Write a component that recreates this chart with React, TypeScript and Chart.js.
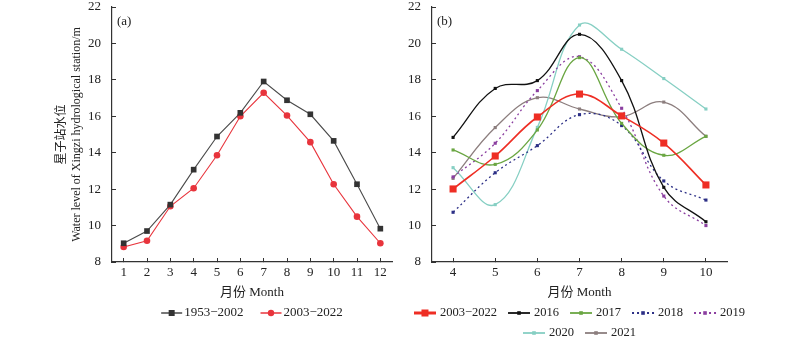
import React, { useEffect, useRef } from "react";
import { Chart, registerables } from "chart.js";

Chart.register(...registerables);

// ---------- data ----------
const monthsA = ["1", "2", "3", "4", "5", "6", "7", "8", "9", "10", "11", "12"];
const levels1953to2002 = [9.03, 9.7, 11.15, 13.07, 14.89, 16.19, 17.91, 16.88, 16.11, 14.65, 12.27, 9.83];
const levels2003to2022 = [8.82, 9.17, 11.06, 12.05, 13.86, 16.0, 17.29, 16.04, 14.58, 12.27, 10.49, 9.03];

const monthsB = ["4", "5", "6", "7", "8", "9", "10"];
const b2003to2022 = [12.01, 13.82, 15.96, 17.22, 16.02, 14.53, 12.23];
const b2016 = [14.84, 17.53, 17.96, 20.5, 17.96, 12.1, 10.21];
const b2017 = [14.15, 13.36, 15.25, 19.22, 15.61, 13.86, 14.9];
const b2018 = [10.73, 12.9, 14.39, 16.09, 15.49, 12.45, 11.4];
const b2019 = [12.67, 14.52, 17.41, 19.27, 16.44, 11.62, 10.0];
const b2020 = [13.18, 11.15, 15.39, 21.01, 19.68, 18.07, 16.4];
const b2021 = [12.59, 15.38, 17.02, 16.4, 15.98, 16.78, 14.9];

const yMin = 8;
const yMax = 22;
const yStep = 2;

const xTitle = "月份 Month";
const yTitle = ["星子站水位", "Water level of Xingzi hydrological station/m"];

const FONT = "'Liberation Serif', 'Times New Roman', 'Noto Sans CJK SC', serif";
const TEXT = "#222";
const AXIS = "#333";

// ---------- plugins ----------
const lineLegend = {
  id: "lineLegend",
  afterDraw(chart: any, _args: any, opts: any) {
    if (!opts || !opts.rows) return;
    const { ctx, chartArea } = chart;
    const cx = (chartArea.left + chartArea.right) / 2;
    ctx.save();
    ctx.font = opts.font;
    ctx.textBaseline = "middle";
    ctx.textAlign = "left";
    opts.rows.forEach((row: number[], ri: number) => {
      const y = opts.y[ri];
      const widths = row.map(
        (i) => opts.lineW + opts.gap1 + ctx.measureText(chart.data.datasets[i].label).width
      );
      const total = widths.reduce((a: number, b: number) => a + b, 0) + opts.gap2 * (row.length - 1);
      let x = cx - total / 2;
      row.forEach((i, k) => {
        const ds = chart.data.datasets[i];
        const lw = (ds.legendLineWidth as number) || 1.5;
        ctx.strokeStyle = ds.borderColor;
        ctx.lineWidth = lw;
        ctx.setLineDash(ds.borderDash || []);
        ctx.beginPath();
        ctx.moveTo(x, y);
        ctx.lineTo(x + opts.lineW, y);
        ctx.stroke();
        ctx.setLineDash([]);
        const mx = x + opts.lineW / 2;
        const r = (ds.legendMarker as number) || 2;
        ctx.fillStyle = ds.pointBackgroundColor;
        if (ds.pointStyle === "circle") {
          ctx.beginPath();
          ctx.arc(mx, y, r, 0, Math.PI * 2);
          ctx.fill();
        } else {
          ctx.fillRect(mx - r, y - r, 2 * r, 2 * r);
        }
        ctx.fillStyle = TEXT;
        ctx.fillText(ds.label, x + opts.lineW + opts.gap1, y);
        x += widths[k] + opts.gap2;
      });
    });
    ctx.restore();
  },
};

const panelLabel = {
  id: "panelLabel",
  afterDraw(chart: any, _args: any, opts: any) {
    if (!opts || !opts.text) return;
    const { ctx, chartArea } = chart;
    ctx.save();
    ctx.font = `13px ${FONT}`;
    ctx.fillStyle = TEXT;
    ctx.textBaseline = "middle";
    ctx.textAlign = "left";
    ctx.fillText(opts.text, chartArea.left + 5, chartArea.top + 15);
    ctx.restore();
  },
};

// ---------- helpers ----------
function makeOptions(cfg: {
  yWidth: number;
  padRight: number;
  showYTitle: boolean;
  legendRows: number[][];
  legendY: number[];
  legendGeom: { lineW: number; gap1: number; gap2: number };
  legendFont: string;
  panel: string;
}): any {
  return {
    responsive: false,
    animation: false,
    layout: { padding: { top: 7, right: cfg.padRight, bottom: 0, left: 0 } },
    plugins: {
      legend: { display: false },
      tooltip: { enabled: false },
      lineLegend: {
        rows: cfg.legendRows,
        y: cfg.legendY,
        font: cfg.legendFont,
        ...cfg.legendGeom,
      },
      panelLabel: { text: cfg.panel },
    },
    scales: {
      x: {
        type: "category",
        offset: true,
        afterFit: (s: any) => {
          s.height = 78;
        },
        border: { display: true, color: AXIS, width: 1.2 },
        grid: {
          display: true,
          drawOnChartArea: false,
          drawTicks: true,
          tickLength: -4,
          color: AXIS,
          offset: false,
        },
        ticks: { color: TEXT, font: { family: FONT, size: 13 }, padding: 7, maxRotation: 0 },
        title: {
          display: true,
          text: xTitle,
          color: TEXT,
          font: { family: FONT, size: 13 },
          padding: { top: 0, bottom: 40 },
        },
      },
      y: {
        type: "linear",
        min: yMin,
        max: yMax,
        afterFit: (s: any) => {
          s.width = cfg.yWidth;
          s.paddingTop = 0;
          s.paddingBottom = 0;
        },
        border: { display: true, color: AXIS, width: 1.2 },
        grid: {
          display: true,
          drawOnChartArea: false,
          drawTicks: true,
          tickLength: -4,
          color: AXIS,
        },
        ticks: { stepSize: yStep, color: TEXT, font: { family: FONT, size: 13 }, padding: 15 },
        title: {
          display: cfg.showYTitle,
          text: yTitle,
          color: TEXT,
          font: { family: FONT, size: 12, lineHeight: 1.25 },
          padding: { top: 54.5, bottom: 0 },
        },
      },
    },
  };
}

function ds(
  label: string,
  data: number[],
  color: string,
  opts: {
    width?: number;
    dash?: number[];
    style?: string;
    radius?: number;
    tension?: number;
    pointColor?: string;
    legendLineWidth?: number;
    legendMarker?: number;
  }
): any {
  return {
    label,
    data,
    borderColor: color,
    backgroundColor: color,
    borderWidth: opts.width ?? 1,
    borderDash: opts.dash ?? [],
    pointStyle: opts.style ?? "rect",
    pointRadius: opts.radius ?? 2,
    pointBorderWidth: 0,
    pointBackgroundColor: opts.pointColor ?? color,
    tension: opts.tension ?? 0,
    fill: false,
    legendLineWidth: opts.legendLineWidth,
    legendMarker: opts.legendMarker,
  };
}

function ChartCanvas({ config }: { config: () => any }) {
  const ref = useRef<HTMLCanvasElement | null>(null);
  useEffect(() => {
    if (!ref.current) return;
    const chart = new Chart(ref.current, config());
    return () => chart.destroy();
  }, []);
  return <canvas ref={ref} width={400} height={340} style={{ display: "block" }} />;
}

const configA = () => ({
  type: "line",
  data: {
    labels: monthsA,
    datasets: [
      ds("1953\u22122002", levels1953to2002, "#4a4a4a", {
        width: 1.1,
        style: "rect",
        radius: 4,
        pointColor: "#333",
        legendLineWidth: 1.5,
        legendMarker: 3,
      }),
      ds("2003\u22122022", levels2003to2022, "#e8343c", {
        width: 1.1,
        style: "circle",
        radius: 3.3,
        legendLineWidth: 1.5,
        legendMarker: 3.2,
      }),
    ],
  },
  options: makeOptions({
    yWidth: 112,
    padRight: 8,
    showYTitle: true,
    legendRows: [[0, 1]],
    legendY: [313],
    legendGeom: { lineW: 21, gap1: 2, gap2: 17 },
    legendFont: `13px ${FONT}`,
    panel: "(a)",
  }),
  plugins: [lineLegend, panelLabel],
});

const T = 0.4;
const configB = () => ({
  type: "line",
  data: {
    labels: monthsB,
    datasets: [
      ds("2003\u22122022", b2003to2022, "#ee2e24", {
        width: 1.6,
        style: "rect",
        radius: 5,
        tension: T,
        legendLineWidth: 3,
        legendMarker: 3.5,
      }),
      ds("2016", b2016, "#111", { width: 1.3, radius: 2.2, tension: T, legendLineWidth: 1.8, legendMarker: 1.8 }),
      ds("2017", b2017, "#6aa642", { width: 1.3, radius: 2.2, tension: T, legendLineWidth: 1.8, legendMarker: 1.8 }),
      ds("2018", b2018, "#2c2f86", {
        width: 1.3,
        dash: [2, 3],
        radius: 2.2,
        tension: T,
        legendLineWidth: 1.8,
        legendMarker: 1.8,
      }),
      ds("2019", b2019, "#8b3fa0", {
        width: 1.3,
        dash: [2, 3],
        radius: 2.2,
        tension: T,
        legendLineWidth: 1.8,
        legendMarker: 1.8,
      }),
      ds("2020", b2020, "#86cfc3", { width: 1.3, radius: 2.2, tension: T, legendLineWidth: 1.8, legendMarker: 1.8 }),
      ds("2021", b2021, "#8c7e7e", { width: 1.3, radius: 2.2, tension: T, legendLineWidth: 1.8, legendMarker: 1.8 }),
    ],
  },
  options: makeOptions({
    yWidth: 32,
    padRight: 73,
    showYTitle: false,
    legendRows: [
      [0, 1, 2, 3, 4],
      [5, 6],
    ],
    legendY: [313, 333],
    legendGeom: { lineW: 22, gap1: 4, gap2: 11 },
    legendFont: `12.5px ${FONT}`,
    panel: "(b)",
  }),
  plugins: [lineLegend, panelLabel],
});

export default function App() {
  return (
    <div
      style={{
        position: "fixed",
        left: 0,
        top: 0,
        width: 800,
        height: 340,
        display: "flex",
        background: "#fff",
      }}
    >
      <ChartCanvas config={configA} />
      <ChartCanvas config={configB} />
    </div>
  );
}
